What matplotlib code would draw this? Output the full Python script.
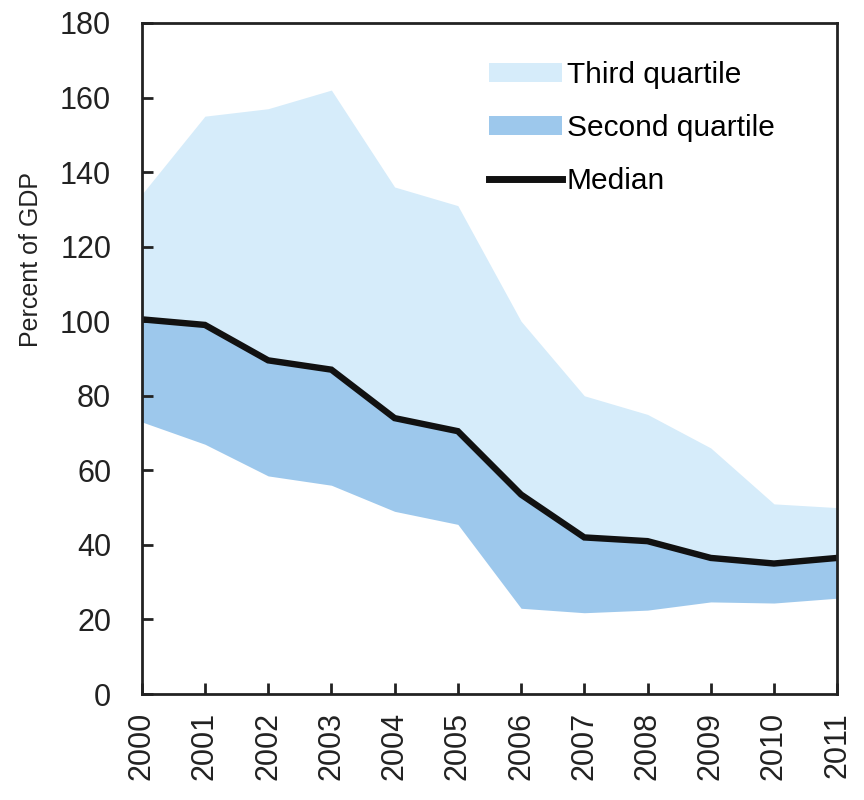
import matplotlib
matplotlib.use("Agg")
import matplotlib.pyplot as plt
from matplotlib.patches import Patch
from matplotlib.lines import Line2D

years = list(range(2000, 2012))
upper = [134, 155, 157, 162, 136, 131, 100, 80, 75, 66, 51, 50]
median = [100.5, 99, 89.5, 87, 74, 70.5, 53.5, 42, 41, 36.5, 35, 36.5]
lower = [73, 67, 58.5, 56, 49, 45.5, 23, 21.8, 22.5, 24.7, 24.4, 25.7]

light = "#d6ecfa"
dark = "#9dc8ec"

plt.rcParams['font.family'] = ['Liberation Sans', 'DejaVu Sans']

fig = plt.figure(figsize=(8.64, 8.0), dpi=100)
ax = fig.add_axes([0.164, 0.1325, 0.805, 0.8388])

ax.fill_between(years, median, upper, color=light, lw=0)
ax.fill_between(years, lower, median, color=dark, lw=0)
ax.plot(years, median, color="#111111", lw=4.6, solid_joinstyle="miter")

ax.set_xlim(2000, 2011)
ax.set_ylim(0, 180)
ax.set_yticks(range(0, 181, 20))
ax.set_xticks(years)
ax.set_xticklabels([str(y) for y in years], rotation=90)
ax.tick_params(direction="in", length=8, width=2, labelsize=22, colors="#222222")
ax.tick_params(axis="x", pad=13)
ax.tick_params(axis="y", pad=22)
for s in ax.spines.values():
    s.set_linewidth(2)
    s.set_color("#222222")

ax.set_ylabel("Percent of GDP", fontsize=18, color="#222222")
ax.yaxis.set_label_coords(-0.142, 0.647)

handles = [Patch(color=light, lw=0), Patch(color=dark, lw=0),
           Line2D([], [], color="#111111", lw=5)]
ax.legend(handles, ["Third quartile", "Second quartile", "Median"],
          loc="upper left", bbox_to_anchor=(0.478, 0.966), frameon=False,
          fontsize=21.5, borderpad=0, handlelength=2.45, handleheight=0.6,
          handletextpad=0.15, labelspacing=0.84)

fig.savefig("out.png", dpi=100)
